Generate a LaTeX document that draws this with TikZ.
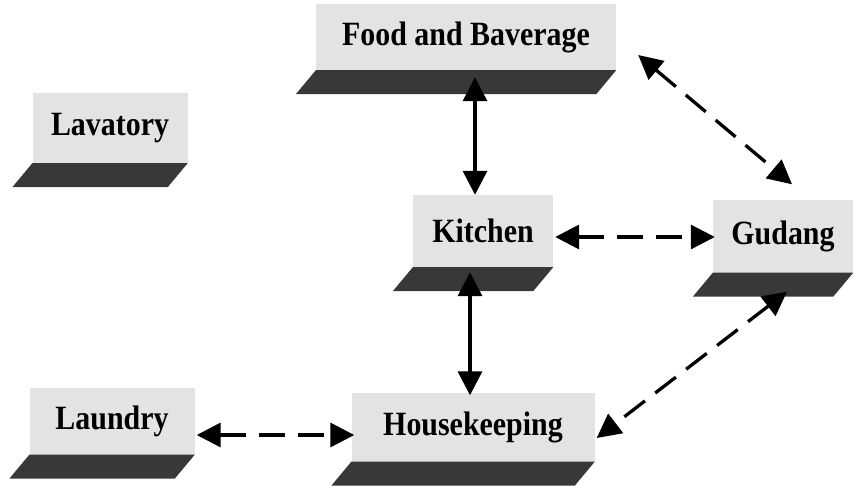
\documentclass[tikz,border=0pt]{standalone}
\usepackage{fontspec}
\setmainfont{Liberation Serif}
\newfontfamily\boxfont[FakeStretch=0.88]{Liberation Serif}
\usetikzlibrary{arrows.meta,calc}

\tikzset{
  unit/.style={
    rectangle, fill=gray!22, inner sep=0pt,
    font=\boxfont\bfseries\fontsize{34}{34}\selectfont, text=black
  },
  link/.style={
    line width=3.3pt,
    {Triangle[length=24pt,width=24pt]}-{Triangle[length=24pt,width=24pt]}
  },
  dashlink/.style={link, dash pattern=on 26pt off 13pt},
  floorfill/.style={fill=black!78}
}

% draws the dark slanted floor under a unit box
\newcommand{\floorunder}[1]{%
  \fill[floorfill] (#1.south west) -- (#1.south east)
    -- ($(#1.south east)+(-20,24)$) -- ($(#1.south west)+(-20,24)$) -- cycle;}

\begin{document}
\begin{tikzpicture}[x=1pt,y=-1pt]
  \useasboundingbox (0,0) rectangle (854,485);
  \fill[white] (0,0) rectangle (854,485);

  % unit boxes
  \node[unit, minimum width=300pt, minimum height=66pt] (food)  at (466,37)  {Food and Baverage};
  \node[unit, minimum width=155pt, minimum height=70pt] (lav)   at (110,128) {Lavatory};
  \node[unit, minimum width=140pt, minimum height=72pt] (kitch) at (483,231) {Kitchen};
  \node[unit, minimum width=140pt, minimum height=73pt] (gud)   at (783,236) {Gudang};
  \node[unit, minimum width=165pt, minimum height=67pt] (laun)  at (112,421) {Laundry};
  \node[unit, minimum width=243pt, minimum height=69pt] (house) at (473,427) {Housekeeping};

  \floorunder{food}
  \floorunder{lav}
  \floorunder{kitch}
  \floorunder{gud}
  \floorunder{laun}
  \floorunder{house}

  % solid links
  \draw[link] ($([xshift=-8pt]kitch.north |- food.south)+(0,7)$) -- ([xshift=-8pt]kitch.north);
  \draw[link] ($([xshift=-13pt]kitch.south)+(0,5)$) -- ([xshift=-13pt,yshift=-3pt]kitch.south |- house.north);

  % dashed links
  \draw[dashlink] ($(kitch.east |- gud.west)+(2,1)$) -- ($(gud.west)+(2,1)$);
  \draw[dashlink] ($(food.east)+(22,18)$) -- ($(gud.north)+(9,-15)$);
  \draw[dashlink] ($(gud.south)+(4,19)$) -- ($(house.east)+(2,11)$);
  \draw[dashlink] ($(laun.east)+(2,14)$) -- ($(house.west)+(3,8)$);
\end{tikzpicture}
\end{document}
